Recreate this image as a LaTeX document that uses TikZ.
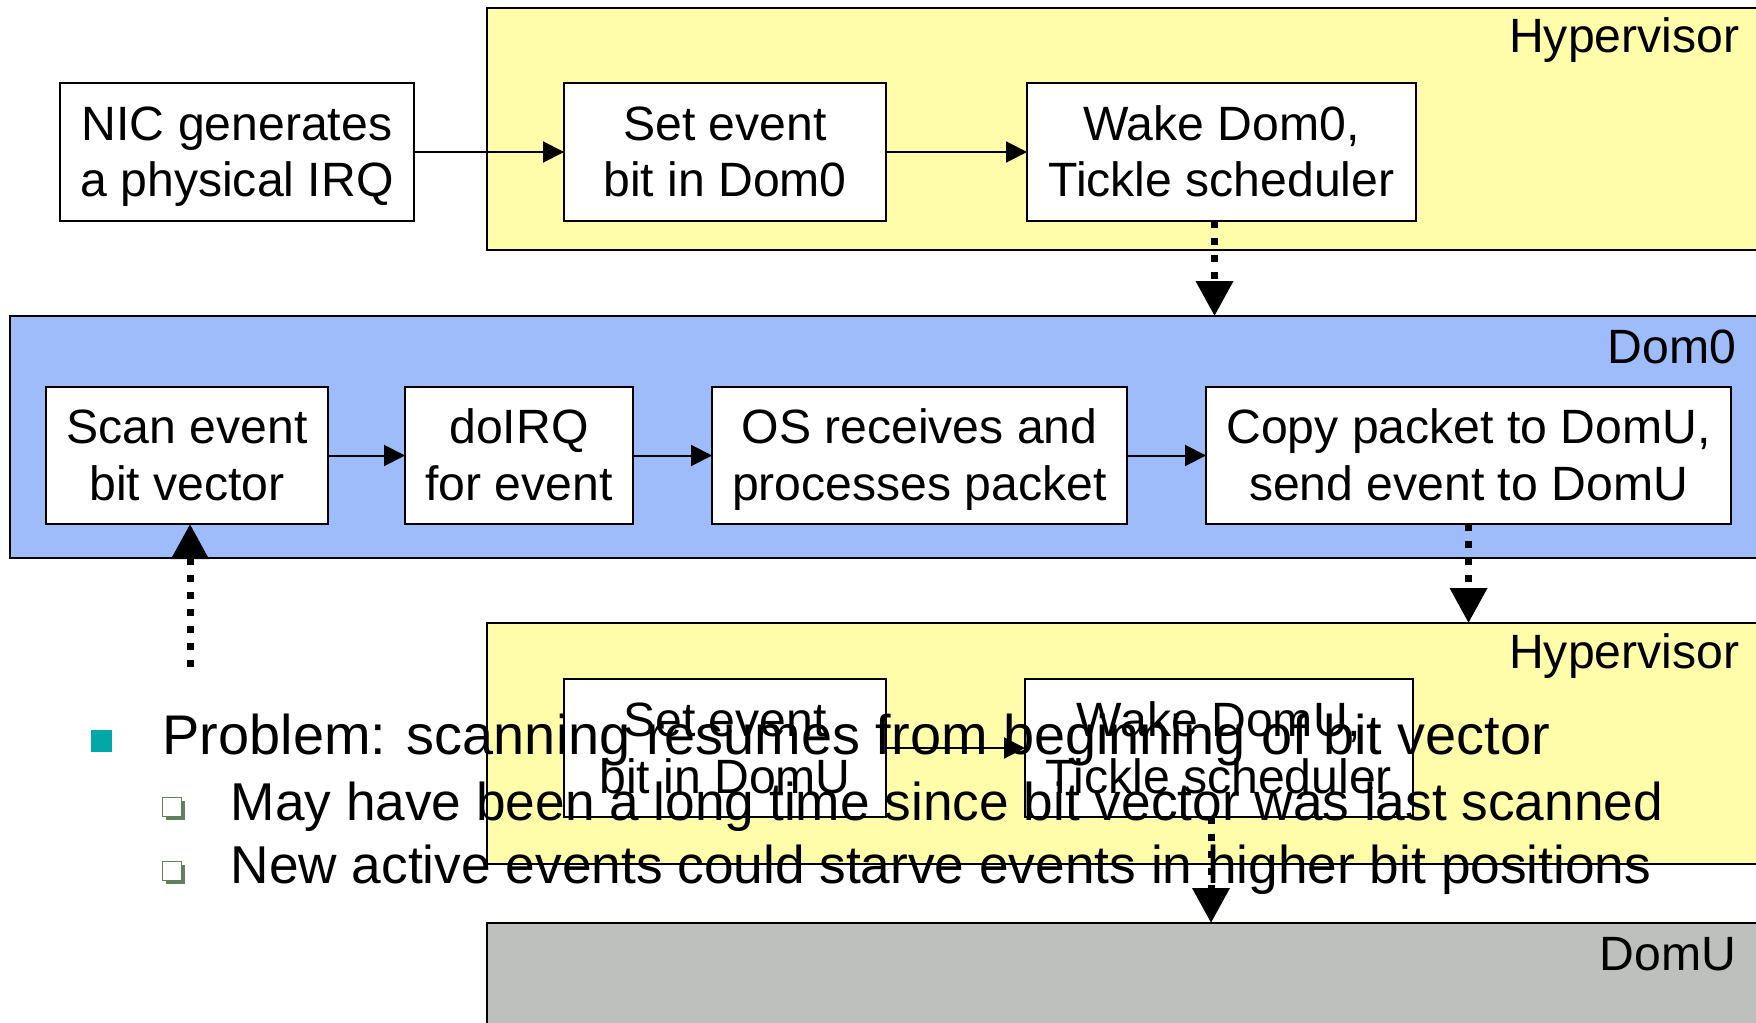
\documentclass[tikz,border=0pt]{standalone}
\usepackage{fontspec}
\setmainfont{Liberation Sans}
\usetikzlibrary{arrows.meta,shadows}

\definecolor{hypyellow}{RGB}{255,252,170}
\definecolor{domblue}{RGB}{158,187,250}
\definecolor{domgrey}{RGB}{190,192,190}
\definecolor{bulteal}{RGB}{0,168,168}
\definecolor{subgreen}{RGB}{96,128,96}

\begin{document}
\begin{tikzpicture}[
    font=\fontsize{13.7}{16.2}\selectfont,
    layer/.style={draw, line width=0.02cm, anchor=north west, minimum width=12.75cm, minimum height=2.42cm, inner sep=0pt, outer sep=0pt},
    lname/.style={anchor=base east, inner sep=0pt, font=\fontsize{13.7}{16}\selectfont},
    stepbox/.style={draw, fill=white, line width=0.018cm, minimum height=1.38cm, align=center, inner sep=0pt, outer sep=0pt,
      text height=0.92cm, text depth=0.02cm},
    flow/.style={line width=0.02cm, -{Triangle[length=0.21cm,width=0.21cm]}},
    wake/.style={line width=0.07cm, dash pattern=on 0.07cm off 0.10cm, -{Triangle[length=0.35cm,width=0.36cm]}},
    bul/.style={fill=bulteal, inner sep=0pt, minimum width=0.21cm, minimum height=0.22cm},
    subbul/.style={draw=subgreen, fill=white, line width=0.012cm, inner sep=0pt, minimum size=0.19cm,
      drop shadow={shadow xshift=0.035cm, shadow yshift=-0.035cm, fill=subgreen, opacity=1}},
    btext/.style={anchor=base west, inner sep=0pt, font=\fontsize{15.9}{18}\selectfont},
    subtext/.style={btext, font=\fontsize{15.15}{18}\selectfont}
]
  \useasboundingbox (0,-10.22) rectangle (17.56,0);

  % ===== layers =====
  \node[layer, fill=hypyellow] (hyp1) at (4.87,-0.08) {};
  \node[layer, fill=domblue, minimum width=17.52cm] (dom0) at (0.10,-3.16) {};
  \node[layer, fill=hypyellow, minimum height=2.41cm] (hyp2) at (4.87,-6.23) {};
  \node[layer, fill=domgrey, minimum height=1.5cm] (domu) at (4.87,-9.23) {};

  \node[lname] (hyp1lbl) at ([xshift=-0.22cm,yshift=-0.45cm]hyp1.north east) {Hypervisor};
  \node[lname] (dom0lbl) at ([xshift=-0.25cm,yshift=-0.47cm]dom0.north east) {Dom0};
  \node[lname] (hyp2lbl) at ([xshift=-0.22cm,yshift=-0.45cm]hyp2.north east) {Hypervisor};
  \node[lname] (domulbl) at ([xshift=-0.25cm,yshift=-0.47cm]domu.north east) {DomU};

  % ===== steps =====
  \node[stepbox, minimum width=3.54cm] (nic) at (2.37,-1.52) {NIC generates\\a physical IRQ};
  \node[stepbox, minimum width=3.22cm] (setev0) at (7.25,-1.52) {Set event\\bit in Dom0};
  \node[stepbox, minimum width=3.89cm] (wake0) at (12.215,-1.52) {Wake Dom0,\\Tickle scheduler};

  \node[stepbox, minimum width=2.82cm, minimum height=1.37cm] (scan) at (1.87,-4.555) {Scan event\\bit vector};
  \node[stepbox, minimum width=2.28cm, minimum height=1.37cm] (doirq) at (5.19,-4.555) {doIRQ\\for event};
  \node[stepbox, minimum width=4.15cm, minimum height=1.37cm] (osrecv) at (9.195,-4.555) {OS receives and\\processes packet};
  \node[stepbox, minimum width=5.25cm, minimum height=1.37cm] (copyu) at (14.685,-4.555) {Copy packet to DomU,\\send event to DomU};

  \node[stepbox, minimum width=3.22cm] (setevu) at (7.25,-7.48) {Set event\\bit in DomU};
  \node[stepbox, minimum width=3.88cm] (wakeu) at (12.19,-7.48) {Wake DomU,\\Tickle scheduler};

  % ===== connectors =====
  \foreach \a/\b in {nic/setev0, setev0/wake0, scan/doirq, doirq/osrecv, osrecv/copyu, setevu/wakeu}
    \draw[flow] (\a) -- (\b);

  \draw[wake] ([xshift=-0.07cm]wake0.south) -- ([xshift=-0.07cm]wake0.south |- dom0.north);
  \draw[wake] (copyu.south) -- (copyu.south |- hyp2.north);
  \draw[wake] ([xshift=-0.08cm]wakeu.south) -- ([xshift=-0.08cm]wakeu.south |- domu.north);
  \coordinate (scanfrom) at (1.90,-6.67);
  \draw[wake] (scanfrom) -- (scanfrom |- scan.south);

  % ===== bullet text =====
  \node[bul] (b1) at (1.015,-7.41) {};
  \node[subbul] (b2) at (1.72,-8.07) {};
  \node[subbul] (b3) at (1.72,-8.71) {};
  \node[btext] (t1) at (1.62,-7.54) {Problem: scanning resumes from beginning of bit vector};
  \node[subtext] (t2) at (2.30,-8.20) {May have been a long time since bit vector was last scanned};
  \node[subtext] (t3) at (2.30,-8.83) {New active events could starve events in higher bit positions};
\end{tikzpicture}
\end{document}
